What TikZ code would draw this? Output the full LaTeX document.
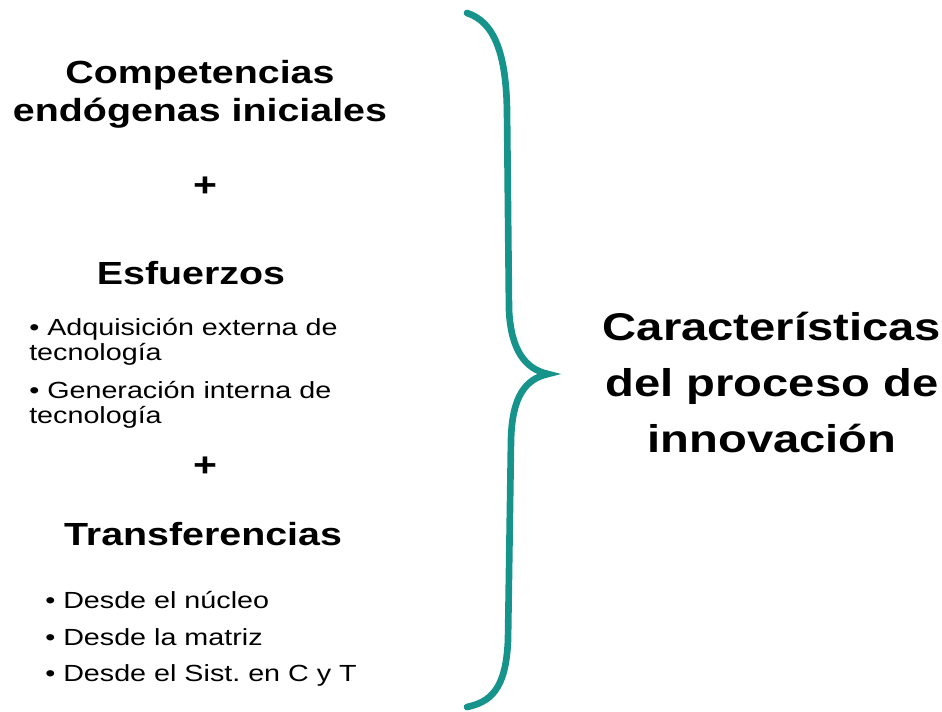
\documentclass[tikz,border=0pt]{standalone}
\usepackage{fontspec}
\setmainfont{Liberation Sans}[FakeStretch=1.23]
\newfontfamily\titlefont{Liberation Sans}[FakeStretch=1.22]
\usetikzlibrary{positioning}

\definecolor{braceteal}{RGB}{22,148,140}

\tikzstyle{heading} = [font=\fontsize{24}{28.5}\selectfont\bfseries,align=center,inner sep=0pt]
\tikzstyle{plus} = [font=\fontsize{25}{25}\selectfont\bfseries,inner sep=0pt]
\tikzstyle{item} = [font=\fontsize{17.5}{18.8}\selectfont,align=left,anchor=west,inner sep=0pt]
\tikzstyle{result} = [font=\titlefont\fontsize{29}{42}\selectfont\bfseries,align=center,inner sep=0pt]

\begin{document}
\frenchspacing
\begin{tikzpicture}[x=0.75pt,y=-0.75pt]
	\useasboundingbox (0,0) rectangle (942,711);

	\node[heading] (comp) at (200,94) {Competencias\\endógenas iniciales};
	\node[plus] (p1) at (205,187) {+};
	\node[heading] (esf) at (191,273) {Esfuerzos};
	\node[item] (adq) at (29,342) {\textbullet\ Adquisición externa de\\tecnología};
	\node[item] (gen) at (29,405) {\textbullet\ Generación interna de\\tecnología};
	\node[plus] (p2) at (205,467) {+};
	\node[heading] (trans) at (203,534) {Transferencias};
	\node[item] (nuc) at (45,600) {\textbullet\ Desde el núcleo};
	\node[item] (mat) at (45,637) {\textbullet\ Desde la matriz};
	\node[item] (sist) at (45,675) {\textbullet\ Desde el Sist. en C y T};

	\node[result] (car) at (772,383) {Características\\del proceso de\\innovación};

	% llave
	\draw[braceteal,line width=5pt,line cap=round]
		(467,13) .. controls (495,22) and (506,55) .. (507,110)
		-- (509,310) .. controls (511,350) and (525,369) .. (548,374)
		.. controls (525,379) and (512,397) .. (511,440)
		-- (508,640) .. controls (506,690) and (490,702) .. (467,707);
\end{tikzpicture}
\end{document}
